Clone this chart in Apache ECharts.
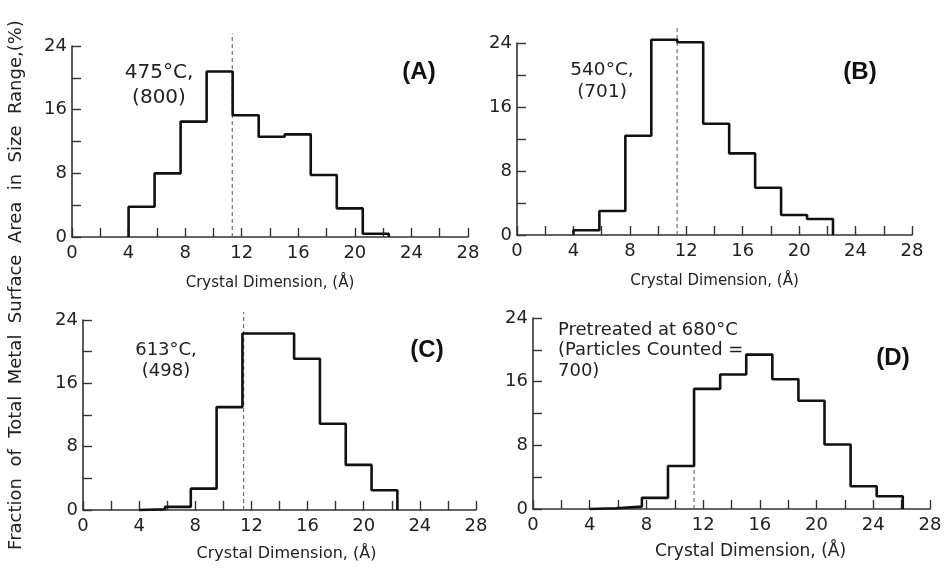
<!DOCTYPE html>
<html>
<head>
<meta charset="utf-8">
<script src="https://cdn.jsdelivr.net/npm/echarts@6/dist/echarts.min.js"></script>
<style>html,body{margin:0;padding:0;background:#fff;}#c{width:945px;height:569px;}</style>
</head>
<body>
<div id="c"></div>
<script>
// Bin edges (Å) shared by all panels
var binEdges = [4.0, 5.84, 7.68, 9.52, 11.36, 13.2, 15.04, 16.88, 18.72, 20.56, 22.4, 24.24, 26.08];
// Heights (% of total metal surface area) per bin
var heightsA = [3.8, 8.0, 14.5, 20.8, 15.3, 12.6, 12.9, 7.8, 3.6, 0.4];
var heightsB = [0.6, 3.0, 12.4, 24.4, 24.1, 13.9, 10.2, 5.9, 2.5, 2.0];
var heightsC = [0.1, 0.4, 2.7, 13.0, 22.3, 22.3, 19.1, 10.9, 5.7, 2.5];
var heightsD = [0.1, 0.3, 1.4, 5.4, 15.1, 16.9, 19.4, 16.3, 13.6, 8.1, 2.85, 1.6];
// Mean crystal dimension (dashed line) and its top value
var meanX = [11.33, 11.35, 11.45, 11.36];
var meanTop = [25.6, 26.0, 25.0, 5.4];
// Tick labels
var xTicks = [0, 4, 8, 12, 16, 20, 24, 28];
var yTicks = [0, 8, 16, 24];
var panelLabels = ['(A)', '(B)', '(C)', '(D)'];
var notes = [['475°C,', '(800)'], ['540°C,', '(701)'], ['613°C,', '(498)'], ['Pretreated at 680°C', '(Particles Counted =', '700)']];
var xName = 'Crystal Dimension, (Å)';
var yName = 'Fraction  of  Total  Metal  Surface  Area  in  Size  Range,(%)';

function stepPoints(edges, h) {
  var pts = [[edges[0], 0]];
  for (var i = 0; i < h.length; i++) {
    pts.push([edges[i], h[i]]);
    pts.push([edges[i + 1], h[i]]);
  }
  pts.push([edges[h.length], 0]);
  return pts;
}

var grids = [
  {left: 72, top: 46, width: 396, height: 191},
  {left: 517, top: 43, width: 395, height: 192},
  {left: 83, top: 320, width: 393, height: 190},
  {left: 533, top: 318, width: 397, height: 191}
];
var nameGaps = [39, 39, 36, 34];
var nameSizes = [15, 15, 16, 17];
var namePad = [[0,0,0,0],[0,0,0,0],[0,0,0,14],[0,0,0,38]];
var allH = [heightsA, heightsB, heightsC, heightsD];

var font = 'DejaVu Sans';
var xAxes = [], yAxes = [], series = [];
for (var k = 0; k < 4; k++) {
  xAxes.push({
    type: 'value', gridIndex: k, min: 0, max: 28, interval: 2,
    axisLine: {show: true, lineStyle: {color: '#333', width: 1.6}},
    axisTick: {show: true, inside: true, length: 9, lineStyle: {color: '#333', width: 1.4}},
    axisLabel: {margin: 7, color: '#222', fontSize: 18, fontFamily: font,
      formatter: function (v) { return xTicks.indexOf(v) >= 0 ? String(v) : ''; }},
    splitLine: {show: false},
    name: xName, nameLocation: 'middle', nameGap: nameGaps[k],
    nameTextStyle: {color: '#222', fontSize: nameSizes[k], fontFamily: font, padding: namePad[k]}
  });
  yAxes.push({
    type: 'value', gridIndex: k, min: 0, max: 24, interval: 4,
    axisLine: {show: true, lineStyle: {color: '#333', width: 1.6}},
    axisTick: {show: true, inside: true, length: 9, lineStyle: {color: '#333', width: 1.4}},
    axisLabel: {margin: 5, color: '#222', fontSize: 18, fontFamily: font,
      formatter: function (v) { return yTicks.indexOf(v) >= 0 ? String(v) : ''; }},
    splitLine: {show: false}
  });
  series.push({
    type: 'line', xAxisIndex: k, yAxisIndex: k, data: stepPoints(binEdges, allH[k]),
    symbol: 'none', clip: false, lineStyle: {color: '#111', width: 2.6}, z: 3
  });
  series.push({
    type: 'line', xAxisIndex: k, yAxisIndex: k, data: [[meanX[k], 0], [meanX[k], meanTop[k]]],
    symbol: 'none', clip: false, lineStyle: {color: '#555', width: 1, type: [4, 3]}, z: 2
  });
}

var graphics = [];
graphics.push({type: 'text', x: 16, y: 285, rotation: Math.PI / 2,
  style: {text: yName, fontSize: 18, fontFamily: font, fill: '#222', align: 'center', verticalAlign: 'middle'}});
var letterPos = [[419, 72], [860, 72], [427, 350], [893, 358]];
for (var i = 0; i < 4; i++) {
  graphics.push({type: 'text', x: letterPos[i][0], y: letterPos[i][1],
    style: {text: panelLabels[i], fontSize: 24, fontWeight: 'bold', fontFamily: 'Liberation Sans', fill: '#111', align: 'center', verticalAlign: 'middle'}});
}
var notePos = [[159, 73, 25, 'center', 20], [602, 70, 22, 'center', 18.5], [166, 350, 21, 'center', 18], [558, 330, 20.5, 'left', 18]];
for (var i = 0; i < 4; i++) {
  for (var j = 0; j < notes[i].length; j++) {
    graphics.push({type: 'text', x: notePos[i][0], y: notePos[i][1] + j * notePos[i][2],
      style: {text: notes[i][j], fontSize: notePos[i][4], fontFamily: font, fill: '#222', align: notePos[i][3], verticalAlign: 'middle'}});
  }
}

var chart = echarts.init(document.getElementById('c'), null, {renderer: 'canvas'});
chart.setOption({
  animation: false,
  backgroundColor: '#fff',
  grid: grids,
  xAxis: xAxes,
  yAxis: yAxes,
  series: series,
  graphic: graphics
});
</script>
</body>
</html>
